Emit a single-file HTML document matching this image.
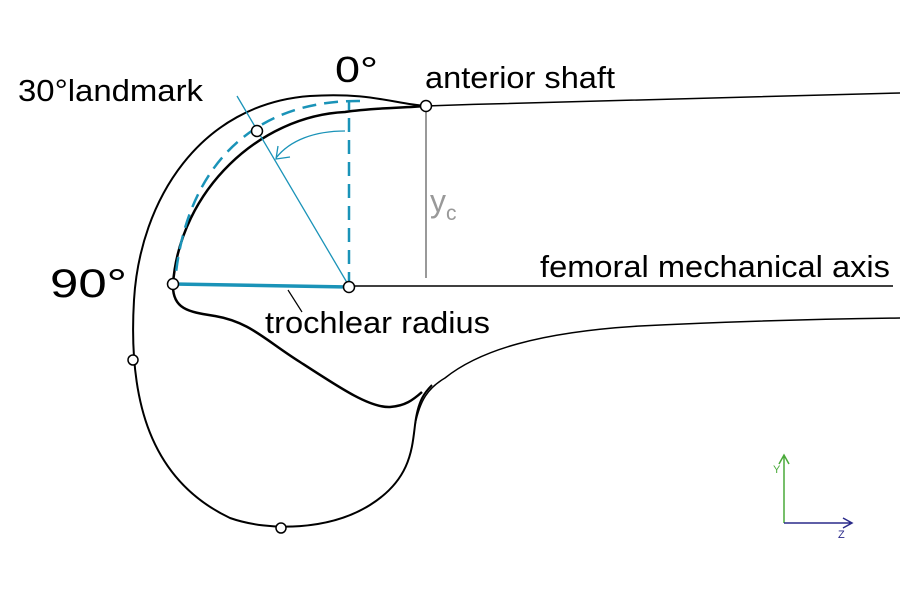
<!DOCTYPE html>
<html><head><style>body{margin:0;background:#fff}svg{display:block}text{font-family:"Liberation Sans",Arial,sans-serif}</style></head>
<body>
<svg width="900" height="600" viewBox="0 0 900 600" xmlns="http://www.w3.org/2000/svg">
<g fill="none" stroke="#000" stroke-width="2">
<path d="M426,106 C600,100 780,95 900,93" stroke-width="1.5"/>
<path d="M426,106 C395,104 370,92 310,96 C200,104 140,200 134,300 C128,400 150,480 230,518 C270,532 330,530 370,505 C410,480 412,450 415,425 C418,400 425,392 432,385"/>
<path d="M415,425 C420,400 428,388 445,378 C480,350 540,332 640,326 C740,321 820,319 900,318" stroke-width="1.5"/>
<path d="M426,106 C400,108 370,108 345,112 C260,116 180,190 173,284" stroke-width="2.5"/>
<path d="M173,284 C172,310 190,312 215,316 C250,322 265,340 300,362 C340,388 370,408 390,407 C405,406 413,400 422,392" stroke-width="2.5"/>
</g>
<line x1="349" y1="286" x2="893" y2="286" stroke="#000" stroke-width="1.5"/>
<line x1="426" y1="112" x2="426" y2="278" stroke="#999" stroke-width="2"/>
<g fill="none" stroke="#1a93b8">
<line x1="349" y1="286" x2="349" y2="102" stroke-width="2.5" stroke-dasharray="14,8"/>
<path d="M360,101 C250,100 185,170 175,282" stroke-width="2.5" stroke-dasharray="14,8"/>
<line x1="237" y1="96" x2="349" y2="286" stroke-width="1.3"/>
<path d="M345,131 C315,131 290,140 276,158" stroke-width="1.3"/>
<path d="M278,146 L276,159 L290,157" stroke-width="1.3"/>
<line x1="173" y1="284" x2="349" y2="287" stroke-width="3.5"/>
</g>
<line x1="288" y1="290" x2="302" y2="312" stroke="#000" stroke-width="1.2"/>
<g fill="#fff" stroke="#000" stroke-width="1.5">
<circle cx="426" cy="106" r="5.5"/><circle cx="257" cy="131" r="5.5"/><circle cx="173" cy="284" r="5.5"/>
<circle cx="349" cy="287" r="5.5"/><circle cx="133" cy="360" r="5"/><circle cx="281" cy="528" r="5"/>
</g>
<g fill="#000">
<text x="335" y="82" font-size="36" textLength="43" lengthAdjust="spacingAndGlyphs">0°</text>
<text x="18" y="101" font-size="31" textLength="185" lengthAdjust="spacingAndGlyphs">30°landmark</text>
<text x="425" y="88" font-size="31" textLength="190" lengthAdjust="spacingAndGlyphs">anterior shaft</text>
<text x="50" y="297" font-size="40" textLength="77" lengthAdjust="spacingAndGlyphs">90°</text>
<text x="540" y="277" font-size="31" textLength="350" lengthAdjust="spacingAndGlyphs">femoral mechanical axis</text>
<text x="265" y="333" font-size="31" textLength="225" lengthAdjust="spacingAndGlyphs">trochlear radius</text>
</g>
<text x="430" y="212" font-size="32" fill="#999">y</text>
<text x="446" y="220" font-size="21" fill="#999">c</text>
<g fill="none" stroke-width="1.5">
<path d="M784,523 L784,455 M779,464 L784,455 L789,464" stroke="#4aaa3a"/>
<path d="M784,523 L852,523 M843,518 L852,523 L843,528" stroke="#2a2a8a"/>
</g>
<text x="773" y="473" font-size="11" fill="#4aaa3a">Y</text>
<text x="838" y="538" font-size="11" fill="#2a2a8a">Z</text>
</svg>
</body></html>
